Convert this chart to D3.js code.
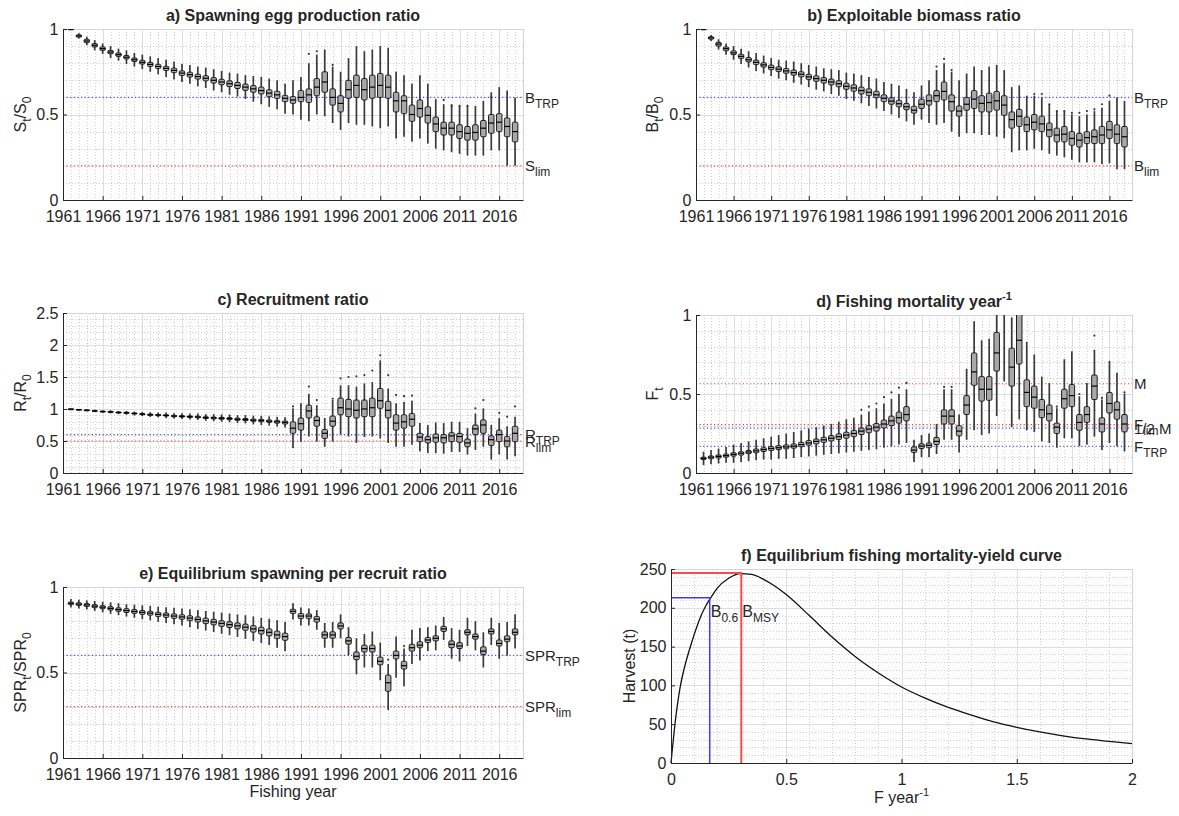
<!DOCTYPE html>
<html>
<head>
<meta charset="utf-8">
<script src="https://cdn.jsdelivr.net/npm/d3@7"></script>
<style>
  body { margin: 0; background: #fff; }
  svg text { font-family: "Liberation Sans", Arial, Helvetica, sans-serif; fill: #262626; }
</style>
</head>
<body>
<svg id="fig" width="1179" height="816"></svg>
<script>
// ---- data ----
const years = d3.range(1962, 2019);
const yearTicks = [1961, 1966, 1971, 1976, 1981, 1986, 1991, 1996, 2001, 2006, 2011, 2016];

// each row: [lower whisker, q1, median, q3, upper whisker]
const eggStats = [
  [1,1,1,1,1],[0.945,0.952,0.96,0.966,0.975],[0.905,0.92,0.93,0.94,0.955],[0.875,0.895,0.905,0.915,0.935],
  [0.855,0.875,0.885,0.895,0.915],[0.83,0.855,0.865,0.875,0.9],[0.815,0.84,0.85,0.86,0.885],[0.795,0.825,0.835,0.845,0.875],
  [0.78,0.81,0.82,0.83,0.86],[0.765,0.795,0.805,0.817,0.85],[0.75,0.781,0.793,0.805,0.84],[0.735,0.769,0.781,0.793,0.83],
  [0.72,0.757,0.77,0.782,0.82],[0.705,0.745,0.758,0.771,0.81],[0.69,0.728,0.742,0.755,0.795],[0.68,0.719,0.733,0.747,0.79],
  [0.665,0.707,0.722,0.736,0.78],[0.655,0.697,0.712,0.727,0.775],[0.64,0.684,0.70,0.716,0.765],[0.63,0.674,0.69,0.706,0.755],
  [0.615,0.663,0.68,0.697,0.745],[0.605,0.652,0.67,0.688,0.74],[0.59,0.641,0.66,0.678,0.73],[0.575,0.63,0.65,0.669,0.725],
  [0.56,0.62,0.64,0.66,0.72],[0.545,0.604,0.625,0.645,0.71],[0.53,0.594,0.615,0.636,0.70],[0.505,0.575,0.595,0.612,0.68],
  [0.50,0.565,0.585,0.605,0.70],[0.47,0.575,0.60,0.64,0.72],[0.46,0.57,0.615,0.65,0.80],[0.50,0.61,0.66,0.71,0.85],
  [0.49,0.63,0.69,0.75,0.88],[0.45,0.555,0.60,0.65,0.78],[0.41,0.515,0.565,0.61,0.75],[0.45,0.595,0.645,0.70,0.83],
  [0.44,0.60,0.67,0.73,0.90],[0.44,0.585,0.645,0.71,0.87],[0.43,0.595,0.66,0.73,0.88],[0.42,0.60,0.67,0.74,0.90],
  [0.43,0.595,0.66,0.73,0.89],[0.36,0.515,0.58,0.63,0.75],[0.37,0.505,0.58,0.61,0.73],[0.34,0.46,0.50,0.555,0.68],
  [0.36,0.485,0.535,0.585,0.73],[0.33,0.45,0.495,0.545,0.68],[0.30,0.40,0.445,0.485,0.59],[0.29,0.38,0.42,0.455,0.56],
  [0.28,0.38,0.42,0.455,0.56],[0.27,0.36,0.40,0.44,0.55],[0.26,0.35,0.39,0.43,0.55],[0.26,0.35,0.395,0.44,0.55],
  [0.26,0.37,0.42,0.465,0.58],[0.29,0.39,0.45,0.50,0.63],[0.29,0.40,0.455,0.505,0.66],[0.20,0.37,0.43,0.48,0.64],
  [0.20,0.34,0.40,0.455,0.60]
];
const eggOut = [[1992,0.855],[1993,0.87],[1995,0.79],[2009,0.585],[2010,0.55],[2011,0.55],[2012,0.55],[2015,0.60]];

const biomassStats = [
  [1,1,1,1,1],[0.93,0.94,0.948,0.955,0.965],[0.88,0.9,0.912,0.922,0.94],[0.85,0.873,0.885,0.895,0.915],
  [0.82,0.85,0.86,0.872,0.9],[0.795,0.828,0.84,0.852,0.885],[0.775,0.808,0.82,0.833,0.87],[0.755,0.792,0.805,0.818,0.86],
  [0.74,0.777,0.79,0.803,0.845],[0.725,0.762,0.775,0.789,0.83],[0.71,0.751,0.765,0.779,0.82],[0.70,0.741,0.755,0.769,0.815],
  [0.685,0.73,0.745,0.76,0.81],[0.675,0.72,0.735,0.75,0.80],[0.66,0.705,0.72,0.735,0.79],[0.645,0.694,0.71,0.726,0.78],
  [0.635,0.684,0.70,0.716,0.77],[0.62,0.673,0.69,0.707,0.765],[0.61,0.662,0.68,0.698,0.76],[0.59,0.647,0.665,0.683,0.745],
  [0.58,0.636,0.655,0.674,0.74],[0.565,0.62,0.64,0.66,0.73],[0.55,0.61,0.63,0.65,0.72],[0.535,0.598,0.615,0.636,0.71],
  [0.52,0.575,0.595,0.615,0.69],[0.50,0.56,0.578,0.598,0.68],[0.48,0.545,0.563,0.583,0.67],[0.46,0.528,0.545,0.565,0.65],
  [0.44,0.508,0.525,0.548,0.63],[0.47,0.535,0.56,0.59,0.67],[0.45,0.555,0.58,0.615,0.70],[0.44,0.575,0.61,0.64,0.76],
  [0.45,0.585,0.635,0.69,0.80],[0.40,0.52,0.575,0.615,0.75],[0.37,0.49,0.52,0.55,0.70],[0.39,0.525,0.56,0.60,0.74],
  [0.39,0.535,0.59,0.64,0.78],[0.38,0.515,0.565,0.61,0.76],[0.38,0.515,0.57,0.625,0.78],[0.37,0.525,0.58,0.635,0.79],
  [0.36,0.495,0.555,0.61,0.76],[0.28,0.42,0.47,0.515,0.66],[0.29,0.43,0.49,0.53,0.67],[0.29,0.40,0.44,0.485,0.61],
  [0.30,0.41,0.455,0.50,0.61],[0.29,0.40,0.445,0.49,0.60],[0.27,0.37,0.41,0.45,0.56],[0.26,0.34,0.38,0.42,0.52],
  [0.25,0.34,0.385,0.43,0.52],[0.235,0.32,0.36,0.40,0.50],[0.22,0.31,0.35,0.39,0.49],[0.22,0.33,0.365,0.40,0.50],
  [0.22,0.33,0.37,0.41,0.52],[0.21,0.33,0.38,0.43,0.54],[0.215,0.36,0.41,0.46,0.58],[0.18,0.33,0.385,0.44,0.60],
  [0.18,0.31,0.37,0.43,0.58]
];
const biomassOut = [[1993,0.78],[1994,0.825],[1995,0.76],[2006,0.62],[2007,0.62],[2008,0.56],[2009,0.52],[2010,0.52],
  [2011,0.51],[2012,0.51],[2013,0.52],[2014,0.53],[2015,0.56],[2016,0.61]];

const recruitStats = [
  [1,1,1,1,1],[0.98,0.987,0.99,0.993,1.0],[0.965,0.975,0.98,0.985,0.995],[0.955,0.965,0.97,0.975,0.99],
  [0.94,0.954,0.96,0.966,0.98],[0.93,0.948,0.955,0.962,0.98],[0.92,0.938,0.945,0.953,0.97],[0.91,0.932,0.94,0.948,0.97],
  [0.90,0.922,0.93,0.938,0.96],[0.89,0.911,0.92,0.929,0.955],[0.875,0.9,0.91,0.92,0.95],[0.87,0.895,0.905,0.915,0.945],
  [0.86,0.89,0.90,0.91,0.945],[0.85,0.879,0.89,0.901,0.935],[0.845,0.874,0.885,0.897,0.935],[0.835,0.868,0.88,0.892,0.93],
  [0.83,0.862,0.875,0.888,0.93],[0.815,0.851,0.865,0.879,0.92],[0.81,0.846,0.86,0.874,0.92],[0.80,0.84,0.855,0.87,0.915],
  [0.795,0.834,0.85,0.866,0.915],[0.78,0.823,0.84,0.857,0.905],[0.775,0.818,0.835,0.852,0.905],[0.76,0.807,0.825,0.843,0.895],
  [0.75,0.801,0.82,0.839,0.895],[0.74,0.79,0.81,0.83,0.885],[0.725,0.778,0.80,0.822,0.88],[0.71,0.765,0.79,0.812,0.87],
  [0.39,0.62,0.70,0.80,1.01],[0.49,0.67,0.77,0.86,1.09],[0.57,0.86,0.97,1.06,1.24],[0.49,0.73,0.82,0.88,1.06],
  [0.41,0.54,0.62,0.68,0.86],[0.49,0.73,0.81,0.89,1.14],[0.60,0.91,1.02,1.17,1.37],[0.57,0.88,1.0,1.15,1.37],
  [0.47,0.86,0.98,1.14,1.35],[0.56,0.88,1.0,1.14,1.40],[0.57,0.88,1.02,1.17,1.42],[0.54,1.01,1.13,1.32,1.76],
  [0.47,0.86,0.98,1.12,1.32],[0.41,0.67,0.78,0.91,1.09],[0.41,0.70,0.80,0.91,1.11],[0.44,0.73,0.84,0.93,1.13],
  [0.34,0.49,0.56,0.62,0.78],[0.31,0.47,0.52,0.57,0.75],[0.31,0.48,0.55,0.61,0.79],[0.30,0.47,0.55,0.60,0.78],
  [0.33,0.49,0.58,0.63,0.80],[0.33,0.48,0.57,0.62,0.80],[0.29,0.41,0.47,0.53,0.70],[0.36,0.60,0.69,0.75,0.93],
  [0.41,0.62,0.75,0.83,1.01],[0.21,0.43,0.52,0.58,0.75],[0.29,0.49,0.60,0.67,0.86],[0.21,0.41,0.50,0.57,0.73],
  [0.26,0.49,0.62,0.73,0.88]
];
const recruitOut = [[1990,1.04],[1992,1.35],[1993,1.14],[1995,1.16],[1996,1.48],[1997,1.50],[1998,1.51],[1999,1.53],
  [2000,1.60],[2001,1.84],[2002,1.53],[2003,1.22],[2004,1.20],[2005,1.21],[2013,1.01],[2014,1.14],[2016,0.94],
  [2017,0.88],[2018,1.04]];

const fishingStats = [
  [0.05,0.085,0.093,0.10,0.135],[0.055,0.09,0.10,0.108,0.145],[0.06,0.095,0.105,0.114,0.155],[0.065,0.1,0.11,0.12,0.165],
  [0.065,0.107,0.118,0.128,0.18],[0.07,0.113,0.125,0.135,0.19],[0.075,0.122,0.133,0.143,0.20],[0.08,0.128,0.14,0.152,0.21],
  [0.085,0.136,0.148,0.16,0.22],[0.085,0.142,0.155,0.167,0.23],[0.09,0.148,0.16,0.173,0.24],[0.09,0.153,0.165,0.178,0.25],
  [0.095,0.157,0.17,0.184,0.26],[0.10,0.166,0.18,0.194,0.27],[0.105,0.176,0.19,0.205,0.28],[0.11,0.184,0.20,0.215,0.29],
  [0.115,0.194,0.21,0.226,0.30],[0.12,0.203,0.22,0.237,0.31],[0.125,0.212,0.23,0.248,0.325],[0.13,0.22,0.24,0.258,0.34],
  [0.135,0.23,0.25,0.27,0.35],[0.14,0.243,0.265,0.285,0.37],[0.145,0.255,0.278,0.30,0.39],[0.15,0.265,0.29,0.313,0.41],
  [0.16,0.285,0.31,0.335,0.44],[0.17,0.30,0.33,0.36,0.47],[0.18,0.315,0.35,0.385,0.50],[0.19,0.33,0.37,0.42,0.53],
  [0.07,0.13,0.145,0.165,0.21],[0.10,0.155,0.17,0.185,0.24],[0.10,0.16,0.175,0.19,0.25],[0.12,0.18,0.20,0.225,0.31],
  [0.21,0.31,0.36,0.40,0.53],[0.21,0.31,0.36,0.40,0.53],[0.13,0.235,0.265,0.30,0.37],[0.21,0.37,0.43,0.49,0.66],
  [0.27,0.555,0.64,0.76,0.96],[0.24,0.455,0.53,0.61,0.84],[0.25,0.46,0.53,0.61,0.85],[0.36,0.645,0.76,0.89,1.05],
  [0.58,1.05,1.2,1.35,1.6],[0.29,0.55,0.67,0.79,0.985],[0.34,0.69,0.84,1.02,1.3],[0.27,0.42,0.51,0.59,0.83],
  [0.26,0.41,0.48,0.55,0.75],[0.20,0.35,0.40,0.465,0.61],[0.19,0.33,0.375,0.43,0.57],[0.16,0.25,0.29,0.316,0.41],
  [0.22,0.41,0.47,0.53,0.72],[0.22,0.42,0.49,0.56,0.77],[0.17,0.27,0.32,0.37,0.486],[0.18,0.32,0.37,0.42,0.57],
  [0.23,0.465,0.55,0.62,0.78],[0.146,0.26,0.31,0.35,0.465],[0.19,0.38,0.44,0.51,0.71],[0.17,0.34,0.40,0.45,0.635],
  [0.136,0.26,0.31,0.37,0.50]
];
const fishingOut = [[1983,0.40],[1984,0.42],[1985,0.44],[1986,0.48],[1987,0.51],[1988,0.54],[1989,0.57],[1994,0.545],
  [1995,0.545],[2009,0.42],[2012,0.50],[2014,0.87],[2015,0.475],[2018,0.51]];

const sprStats = [
  [0.88,0.897,0.905,0.912,0.93],[0.875,0.892,0.90,0.908,0.925],[0.868,0.886,0.895,0.903,0.922],[0.86,0.879,0.888,0.897,0.918],
  [0.852,0.873,0.882,0.891,0.914],[0.843,0.865,0.875,0.885,0.91],[0.835,0.858,0.868,0.878,0.905],[0.827,0.851,0.862,0.873,0.90],
  [0.82,0.846,0.857,0.868,0.897],[0.812,0.84,0.852,0.863,0.893],[0.805,0.835,0.847,0.858,0.89],[0.796,0.827,0.84,0.852,0.885],
  [0.79,0.822,0.836,0.848,0.882],[0.782,0.816,0.83,0.843,0.878],[0.775,0.811,0.825,0.838,0.875],[0.765,0.803,0.818,0.832,0.87],
  [0.755,0.795,0.81,0.825,0.865],[0.745,0.786,0.802,0.818,0.86],[0.737,0.779,0.795,0.811,0.855],[0.727,0.77,0.787,0.803,0.85],
  [0.718,0.763,0.78,0.797,0.845],[0.708,0.755,0.773,0.79,0.84],[0.697,0.747,0.765,0.783,0.835],[0.685,0.736,0.755,0.774,0.828],
  [0.673,0.725,0.745,0.765,0.82],[0.66,0.714,0.735,0.755,0.815],[0.645,0.698,0.72,0.742,0.805],[0.625,0.688,0.71,0.73,0.795],
  [0.81,0.845,0.858,0.87,0.905],[0.775,0.815,0.83,0.845,0.88],[0.775,0.815,0.83,0.843,0.875],[0.75,0.795,0.812,0.828,0.865],
  [0.645,0.70,0.72,0.738,0.79],[0.645,0.70,0.72,0.738,0.795],[0.70,0.755,0.772,0.79,0.84],[0.60,0.665,0.685,0.705,0.765],
  [0.49,0.575,0.595,0.62,0.70],[0.53,0.62,0.64,0.66,0.725],[0.53,0.62,0.64,0.66,0.74],[0.455,0.545,0.565,0.59,0.675],
  [0.28,0.39,0.44,0.485,0.55],[0.47,0.58,0.60,0.625,0.71],[0.42,0.52,0.54,0.565,0.64],[0.55,0.625,0.645,0.665,0.75],
  [0.57,0.645,0.66,0.68,0.76],[0.625,0.675,0.69,0.705,0.765],[0.63,0.685,0.70,0.715,0.775],[0.69,0.74,0.755,0.77,0.825],
  [0.58,0.645,0.665,0.685,0.76],[0.565,0.64,0.655,0.675,0.75],[0.655,0.72,0.735,0.75,0.82],[0.63,0.695,0.71,0.725,0.80],
  [0.53,0.605,0.625,0.65,0.735],[0.66,0.725,0.74,0.755,0.82],[0.58,0.655,0.67,0.69,0.79],[0.60,0.68,0.695,0.715,0.795],
  [0.64,0.72,0.735,0.755,0.84]
];
const sprOut = [[2002,0.575],[2004,0.655]];

// equilibrium yield curve
const yieldF = [0,0.02,0.04,0.06,0.08,0.1,0.125,0.15,0.175,0.2,0.25,0.3,0.35,0.4,0.45,0.5,0.6,0.7,0.8,0.9,1.0,1.1,1.2,1.3,1.4,1.5,1.6,1.7,1.8,1.9,2.0];
const yieldH = [0,57,98,125,146,165,186,202,214,225,238,244,243,237,228,217,190,162,137,116,98,84,72,62,53,46,40,35,31,28,25];
const fTarget = [0.168, 213];   // B0.6
const fMsy = [0.305, 245];      // BMSY

const svg = d3.select('#fig');
const FONT = 16;

// text with _{sub} and ^{sup}
function rich(sel, str, size, subSize) {
  const re = /([_^])\{([^}]*)\}|([^_^]+)/g;
  let m, shift = 0;
  while ((m = re.exec(str)) !== null) {
    const kind = m[1] === '_' ? 5 : m[1] === '^' ? -7 : 0;
    const t = m[1] ? m[2] : m[3];
    sel.append('tspan')
      .attr('dy', kind - shift)
      .attr('font-size', kind === 0 ? size : subSize)
      .text(t);
    shift = kind;
  }
  return sel;
}

function frame(g, x, y, xMajor, xMinor, yMajor, yMinor) {
  const [x0, x1] = x.range();
  const [yb, yt] = y.range();
  const px = v => Math.round(x(v)) + 0.5;
  const py = v => Math.round(y(v)) + 0.5;
  // minor grid
  g.append('g').selectAll('line').data(xMinor).join('line')
    .attr('x1', px).attr('x2', px).attr('y1', yt).attr('y2', yb)
    .attr('stroke', '#d0d0d0').attr('stroke-dasharray', '1,2');
  g.append('g').selectAll('line').data(yMinor).join('line')
    .attr('y1', py).attr('y2', py).attr('x1', x0).attr('x2', x1)
    .attr('stroke', '#d0d0d0').attr('stroke-dasharray', '1,2');
  // major grid
  g.append('g').selectAll('line').data(xMajor).join('line')
    .attr('x1', px).attr('x2', px).attr('y1', yt).attr('y2', yb)
    .attr('stroke', '#dedede');
  g.append('g').selectAll('line').data(yMajor).join('line')
    .attr('y1', py).attr('y2', py).attr('x1', x0).attr('x2', x1)
    .attr('stroke', '#dedede');
  // top / right edges
  g.append('line').attr('x1', x0).attr('x2', x1).attr('y1', yt + 0.5).attr('y2', yt + 0.5).attr('stroke', '#d4d4d4');
  g.append('line').attr('x1', x1 + 0.5).attr('x2', x1 + 0.5).attr('y1', yt).attr('y2', yb).attr('stroke', '#d4d4d4');
}

function axes(g, x, y, xMajor, yMajor, xFmt) {
  const [yb] = y.range();
  const [x0] = x.range();
  const ax = g.append('g').attr('transform', `translate(0,${yb})`)
    .call(d3.axisBottom(x).tickValues(xMajor).tickFormat(xFmt).tickSizeInner(-4).tickSizeOuter(0).tickPadding(10.5));
  const ay = g.append('g').attr('transform', `translate(${x0},0)`)
    .call(d3.axisLeft(y).tickValues(yMajor).tickFormat(d3.format('~g')).tickSizeInner(-4).tickSizeOuter(0).tickPadding(4.5));
  [ax, ay].forEach(a => {
    a.attr('font-size', FONT).attr('font-family', null).attr('color', '#262626');
    a.selectAll('text').attr('fill', '#262626');
  });
}

function title(str, x, y) {
  rich(svg.append('text').attr('x', x).attr('y', y).attr('text-anchor', 'middle')
    .attr('font-weight', 'bold').attr('font-size', FONT), str, FONT, 11);
}

function yLabel(str, x, cy) {
  rich(svg.append('text').attr('transform', `translate(${x},${cy}) rotate(-90)`)
    .attr('text-anchor', 'middle').attr('font-size', FONT), str, FONT, 12);
}

function boxPanel(p) {
  const x = d3.scaleLinear().domain([1961, 2019]).range([p.x0, p.x1]);
  const y = d3.scaleLinear().domain([0, p.ymax]).range([p.y1, p.y0]);
  const g = svg.append('g');
  const xMinor = d3.range(1962, 2020).filter(v => (v - 1961) % 5 !== 0);
  const yMinor = d3.range(1, Math.round(p.ymax * 10)).map(v => v / 10).filter(v => Math.round(v * 10) % 5 !== 0);
  frame(g, x, y, yearTicks, xMinor, p.yTicks, yMinor);

  const clipId = 'clip' + p.id;
  svg.append('clipPath').attr('id', clipId).append('rect')
    .attr('x', p.x0).attr('y', p.y0).attr('width', p.x1 - p.x0).attr('height', p.y1 - p.y0);

  // reference lines
  g.append('g').selectAll('line').data(p.refs).join('line')
    .attr('x1', p.x0).attr('x2', p.x1)
    .attr('y1', d => y(d.v)).attr('y2', d => y(d.v))
    .attr('stroke', d => d.c === 'red' ? '#ff3b3b' : '#4a4aff')
    .attr('stroke-width', 1.2).attr('stroke-dasharray', '1.2,2.4');

  const bx = g.append('g').attr('clip-path', `url(#${clipId})`);
  const rows = p.stats.map((s, i) => ({ yr: p.years[i], lo: s[0], q1: s[1], med: s[2], q3: s[3], hi: s[4] }));
  const bw = 5.5;
  bx.selectAll('.wl').data(rows).join('line')
    .attr('x1', d => x(d.yr)).attr('x2', d => x(d.yr))
    .attr('y1', d => y(d.lo)).attr('y2', d => y(d.q1))
    .attr('stroke', '#3a3a3a').attr('stroke-width', 1.7);
  bx.selectAll('.wh').data(rows).join('line')
    .attr('x1', d => x(d.yr)).attr('x2', d => x(d.yr))
    .attr('y1', d => y(d.q3)).attr('y2', d => y(d.hi))
    .attr('stroke', '#3a3a3a').attr('stroke-width', 1.7);
  bx.selectAll('rect').data(rows).join('rect')
    .attr('x', d => x(d.yr) - bw / 2).attr('width', bw)
    .attr('y', d => y(d.q3)).attr('height', d => Math.max(0.8, y(d.q1) - y(d.q3)))
    .attr('rx', 1.2)
    .attr('fill', '#a8a8a8').attr('stroke', '#1c1c1c').attr('stroke-width', 1);
  bx.selectAll('.md').data(rows).join('line')
    .attr('x1', d => x(d.yr) - bw / 2).attr('x2', d => x(d.yr) + bw / 2)
    .attr('y1', d => y(d.med)).attr('y2', d => y(d.med))
    .attr('stroke', '#000').attr('stroke-width', 1.2);
  bx.selectAll('circle').data(p.out).join('circle')
    .attr('cx', d => x(d[0])).attr('cy', d => y(d[1])).attr('r', 1.1)
    .attr('fill', '#3a3a3a');

  axes(g, x, y, yearTicks, p.yTicks, d3.format('d'));

  p.refs.forEach(r => {
    rich(svg.append('text').attr('x', p.x1 + 2).attr('y', y(r.v) + 5.5).attr('font-size', 15), r.label, 15, 12);
  });
  title(p.title, (p.x0 + p.x1) / 2, p.y0 - 8);
  yLabel(p.ylab, p.ylx, (p.y0 + p.y1) / 2);
}

boxPanel({
  id: 'a', x0: 63, x1: 523, y0: 29, y1: 200, ymax: 1, yTicks: [0, 0.5, 1],
  years: years, stats: eggStats, out: eggOut,
  refs: [{ v: 0.6, c: 'blue', label: 'B_{TRP}' }, { v: 0.2, c: 'red', label: 'S_{lim}' }],
  title: 'a) Spawning egg production ratio', ylab: 'S_{t}/S_{0}', ylx: 26
});
boxPanel({
  id: 'b', x0: 696, x1: 1132, y0: 29, y1: 200, ymax: 1, yTicks: [0, 0.5, 1],
  years: years, stats: biomassStats, out: biomassOut,
  refs: [{ v: 0.6, c: 'blue', label: 'B_{TRP}' }, { v: 0.2, c: 'red', label: 'B_{lim}' }],
  title: 'b) Exploitable biomass ratio', ylab: 'B_{t}/B_{0}', ylx: 658
});
boxPanel({
  id: 'c', x0: 63, x1: 523, y0: 313, y1: 473, ymax: 2.5, yTicks: [0, 0.5, 1, 1.5, 2, 2.5],
  years: years, stats: recruitStats, out: recruitOut,
  refs: [{ v: 0.6, c: 'blue', label: 'R_{TRP}' }, { v: 0.5, c: 'red', label: 'R_{lim}' }],
  title: 'c) Recruitment ratio', ylab: 'R_{t}/R_{0}', ylx: 26
});
boxPanel({
  id: 'd', x0: 696, x1: 1132, y0: 315, y1: 473, ymax: 1, yTicks: [0, 0.5, 1],
  years: years, stats: fishingStats, out: fishingOut,
  refs: [{ v: 0.565, c: 'red', label: 'M' }, { v: 0.306, c: 'red', label: 'F_{lim}' },
         { v: 0.284, c: 'blue', label: '1/2 M' }, { v: 0.168, c: 'blue', label: 'F_{TRP}' }],
  title: 'd) Fishing mortality year^{-1}', ylab: 'F_{t}', ylx: 658
});
boxPanel({
  id: 'e', x0: 63, x1: 523, y0: 587, y1: 758, ymax: 1, yTicks: [0, 0.5, 1],
  years: years, stats: sprStats, out: sprOut,
  refs: [{ v: 0.6, c: 'blue', label: 'SPR_{TRP}' }, { v: 0.3, c: 'red', label: 'SPR_{lim}' }],
  title: 'e) Equilibrium spawning per recruit ratio', ylab: 'SPR_{t}/SPR_{0}', ylx: 26
});
svg.append('text').attr('x', (63 + 523) / 2).attr('y', 797).attr('text-anchor', 'middle')
  .attr('font-size', FONT).text('Fishing year');

// ---- panel f: yield curve ----
(function () {
  const x0 = 671, x1 = 1132, y0 = 569, y1 = 763;
  const x = d3.scaleLinear().domain([0, 2]).range([x0, x1]);
  const y = d3.scaleLinear().domain([0, 250]).range([y1, y0]);
  const g = svg.append('g');
  const xMajor = [0, 0.5, 1, 1.5, 2];
  const xMinor = d3.range(1, 20).map(v => v / 10).filter(v => Math.round(v * 10) % 5 !== 0);
  const yMajor = [0, 50, 100, 150, 200, 250];
  const yMinor = d3.range(10, 250, 10).filter(v => v % 50 !== 0);
  frame(g, x, y, xMajor, xMinor, yMajor, yMinor);

  const pts = yieldF.map((f, i) => [f, yieldH[i]]);
  g.append('path').datum(pts)
    .attr('d', d3.line().x(d => x(d[0])).y(d => y(d[1])).curve(d3.curveMonotoneX))
    .attr('fill', 'none').attr('stroke', '#111').attr('stroke-width', 1.3);

  const guide = (pt, color, w) => {
    g.append('path')
      .attr('d', `M${x(0)},${y(pt[1])}H${x(pt[0])}V${y(0)}`)
      .attr('fill', 'none').attr('stroke', color).attr('stroke-width', w);
  };
  guide(fTarget, '#3b3bff', 1.5);
  guide(fMsy, '#ff4a4a', 2);

  axes(g, x, y, xMajor, yMajor, d3.format('~g'));

  rich(svg.append('text').attr('x', x(fTarget[0]) + 1).attr('y', 617).attr('font-size', FONT), 'B_{0.6}', FONT, 12);
  rich(svg.append('text').attr('x', x(fMsy[0]) + 1).attr('y', 617).attr('font-size', FONT), 'B_{MSY}', FONT, 12);

  title('f) Equilibrium fishing mortality-yield curve', (x0 + x1) / 2, y0 - 8);
  yLabel('Harvest (t)', 635, (y0 + y1) / 2);
  rich(svg.append('text').attr('x', (x0 + x1) / 2).attr('y', 803).attr('text-anchor', 'middle')
    .attr('font-size', FONT), 'F year^{-1}', FONT, 11);
})();
</script>
</body>
</html>
